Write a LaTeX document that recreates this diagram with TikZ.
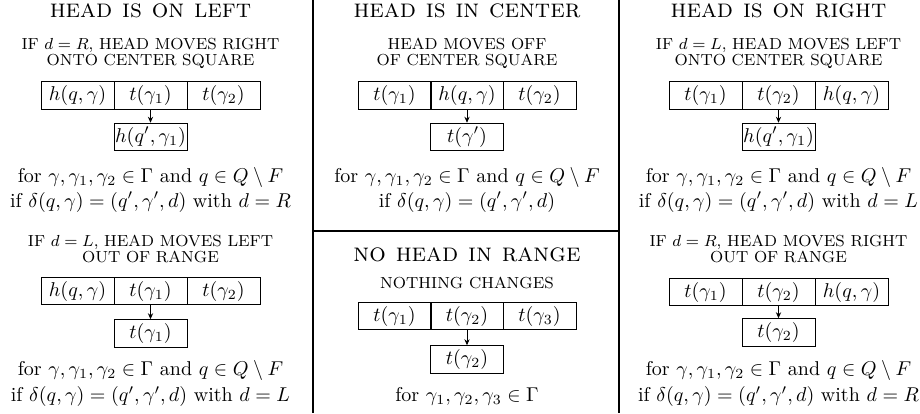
\documentclass[tikz,border=0pt]{standalone}
\usetikzlibrary{arrows.meta}
\begin{document}
\begin{tikzpicture}[x=0.5pt,y=-0.5pt,
  cell/.style={draw, line width=0.5pt, minimum width=36.5pt, minimum height=13.75pt, inner sep=0pt},
  ttl/.style={anchor=base, inner sep=0pt, font=\fontsize{13}{15}\selectfont\scshape},
  sub/.style={anchor=base, inner sep=0pt, font=\footnotesize},
  txt/.style={anchor=base, inner sep=0pt},
  arr/.style={-{Stealth[length=3pt,width=2.6pt]}, line width=0.4pt},
  sep/.style={line width=1pt}]
\useasboundingbox (0,0) rectangle (920,413);
% ---------- left column ----------
\node[ttl] (Lt) at (150.5,17.3) {head is on left};
\node[sub] (La1) at (150.5,49.5) {IF $d=R$, HEAD MOVES RIGHT};
\node[sub] (La2) at (150.5,65.7) {ONTO CENTER SQUARE};
\node[cell] (La-1) at (77.5,95.5) {$h(q,\gamma)$};
\node[cell] (La-2) at (150.5,95.5) {$t(\gamma_1)$};
\node[cell] (La-3) at (223.5,95.5) {$t(\gamma_2)$};
\node[cell] (La-r) at (150.5,137) {$h(q',\gamma_1)$};
\draw[arr] (La-2) -- (La-r);
\node[txt] (La-f) at (150.5,182) {for $\gamma,\gamma_1,\gamma_2\in\Gamma$ and $q\in Q\setminus F$};
\node[txt] (La-i) at (150.5,207) {if $\delta(q,\gamma)=(q',\gamma',d)$ with $d=R$};
\node[sub] (Lb1) at (150.5,246.7) {IF $d=L$, HEAD MOVES LEFT};
\node[sub] (Lb2) at (150.5,262.7) {OUT OF RANGE};
\node[cell] (Lb-1) at (77.5,291) {$h(q,\gamma)$};
\node[cell] (Lb-2) at (150.5,291) {$t(\gamma_1)$};
\node[cell] (Lb-3) at (223.5,291) {$t(\gamma_2)$};
\node[cell] (Lb-r) at (150.5,333.5) {$t(\gamma_1)$};
\draw[arr] (Lb-2) -- (Lb-r);
\node[txt] (Lb-f) at (150.5,375.5) {for $\gamma,\gamma_1,\gamma_2\in\Gamma$ and $q\in Q\setminus F$};
\node[txt] (Lb-i) at (150.5,401.5) {if $\delta(q,\gamma)=(q',\gamma',d)$ with $d=L$};
% ---------- center column ----------
\node[ttl] (Ct) at (467,17.5) {head is in center};
\node[sub] (Ca1) at (467,49.5) {HEAD MOVES OFF};
\node[sub] (Ca2) at (467,65.7) {OF CENTER SQUARE};
\node[cell] (Ca-1) at (394.5,95.5) {$t(\gamma_1)$};
\node[cell] (Ca-2) at (467,95.5) {$h(q,\gamma)$};
\node[cell] (Ca-3) at (539.5,95.5) {$t(\gamma_2)$};
\node[cell] (Ca-r) at (467,137) {$t(\gamma')$};
\draw[arr] (Ca-2) -- (Ca-r);
\node[txt] (Ca-f) at (467,182) {for $\gamma,\gamma_1,\gamma_2\in\Gamma$ and $q\in Q\setminus F$};
\node[txt] (Ca-i) at (467,207) {if $\delta(q,\gamma)=(q',\gamma',d)$};
\node[ttl] (Cb) at (467,261.5) {no head in range};
\node[sub] (Cb1) at (467,288.3) {NOTHING CHANGES};
\node[cell] (Cb-1) at (394.5,316) {$t(\gamma_1)$};
\node[cell] (Cb-2) at (467,316) {$t(\gamma_2)$};
\node[cell] (Cb-3) at (539.5,316) {$t(\gamma_3)$};
\node[cell] (Cb-r) at (467,359.5) {$t(\gamma_2)$};
\draw[arr] (Cb-2) -- (Cb-r);
\node[txt] (Cb-f) at (467,401) {for $\gamma_1,\gamma_2,\gamma_3\in\Gamma$};
% ---------- right column ----------
\node[ttl] (Rt) at (778.5,17.5) {head is on right};
\node[sub] (Ra1) at (778.5,49.5) {IF $d=L$, HEAD MOVES LEFT};
\node[sub] (Ra2) at (778.5,65.7) {ONTO CENTER SQUARE};
\node[cell] (Ra-1) at (705.5,95.5) {$t(\gamma_1)$};
\node[cell] (Ra-2) at (778.5,95.5) {$t(\gamma_2)$};
\node[cell] (Ra-3) at (851.5,95.5) {$h(q,\gamma)$};
\node[cell] (Ra-r) at (778.5,137) {$h(q',\gamma_1)$};
\draw[arr] (Ra-2) -- (Ra-r);
\node[txt] (Ra-f) at (778.5,182) {for $\gamma,\gamma_1,\gamma_2\in\Gamma$ and $q\in Q\setminus F$};
\node[txt] (Ra-i) at (778.5,207) {if $\delta(q,\gamma)=(q',\gamma',d)$ with $d=L$};
\node[sub] (Rb1) at (778.5,246.7) {IF $d=R$, HEAD MOVES RIGHT};
\node[sub] (Rb2) at (778.5,262.7) {OUT OF RANGE};
\node[cell] (Rb-1) at (705.5,292) {$t(\gamma_1)$};
\node[cell] (Rb-2) at (778.5,292) {$t(\gamma_2)$};
\node[cell] (Rb-3) at (851.5,292) {$h(q,\gamma)$};
\node[cell] (Rb-r) at (778.5,332.5) {$t(\gamma_2)$};
\draw[arr] (Rb-2) -- (Rb-r);
\node[txt] (Rb-f) at (778.5,375.5) {for $\gamma,\gamma_1,\gamma_2\in\Gamma$ and $q\in Q\setminus F$};
\node[txt] (Rb-i) at (778.5,401.5) {if $\delta(q,\gamma)=(q',\gamma',d)$ with $d=R$};
% ---------- separators ----------
\coordinate (s1t) at (313,0);
\coordinate (s1b) at (313,413);
\coordinate (s2t) at (619,0);
\coordinate (s2b) at (619,413);
\coordinate (hm1) at (313,231);
\coordinate (hm2) at (619,231);
\draw[sep] (s1t) -- (s1b);
\draw[sep] (s2t) -- (s2b);
\draw[line width=0.7pt] (hm1) -- (hm2);
\end{tikzpicture}
\end{document}
